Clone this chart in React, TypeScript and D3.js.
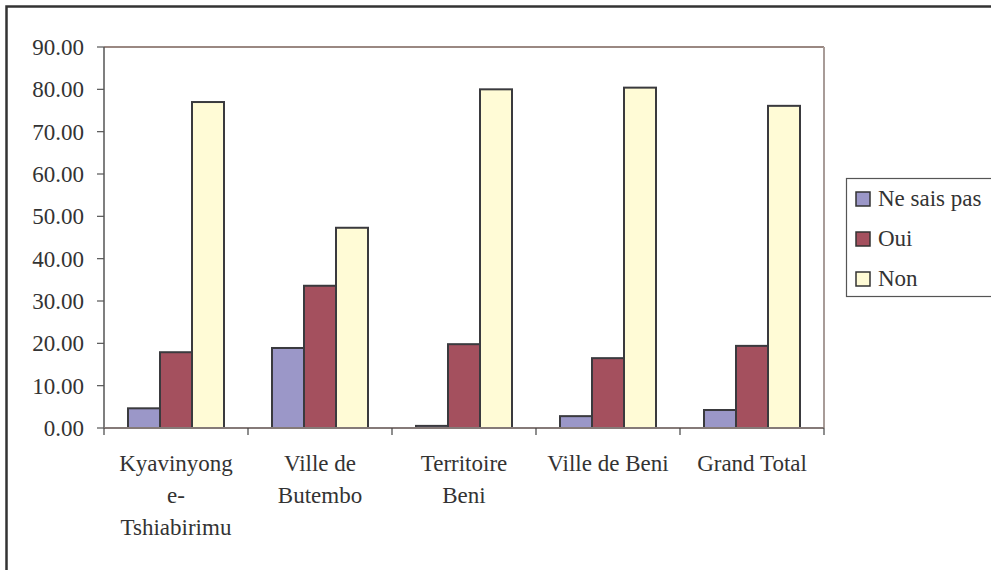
import React from "react";
import * as d3 from "d3";

const categories: string[][] = [
  ["Kyavinyong", "e-", "Tshiabirimu"],
  ["Ville de", "Butembo"],
  ["Territoire", "Beni"],
  ["Ville de Beni"],
  ["Grand Total"],
];
const seriesNames = ["Ne sais pas", "Oui", "Non"];
const neSaisPas = [4.65, 18.9, 0.5, 2.8, 4.25];
const oui = [17.9, 33.6, 19.8, 16.5, 19.4];
const non = [77.0, 47.3, 80.0, 80.4, 76.1];
const yTicks = [0, 10, 20, 30, 40, 50, 60, 70, 80, 90];
const colors = ["#9b97c8", "#a4505e", "#fffbd6"];

const W = 991;
const H = 570;
const plot = { left: 104, right: 824, top: 47, bottom: 428 };
const textStyle: React.CSSProperties = {
  fontFamily: "'Times New Roman', Tinos, 'Noto Serif', FreeSerif, 'Liberation Serif', serif",
};
const textColor = "#333333";

export default function App() {
  const series = [neSaisPas, oui, non];
  const x0 = d3
    .scaleBand<number>()
    .domain(d3.range(categories.length))
    .range([plot.left, plot.right])
    .paddingInner(0)
    .paddingOuter(0);
  const bw = x0.bandwidth();
  const x1 = d3
    .scaleBand<number>()
    .domain(d3.range(series.length))
    .range([bw * (0.75 / 4.5), bw * (1 - 0.75 / 4.5)])
    .padding(0);
  const y = d3.scaleLinear().domain([0, 90]).range([plot.bottom, plot.top]);

  return (
    <svg
      width={W}
      height={H}
      style={{ position: "absolute", left: 0, top: 0, background: "#fff" }}
    >
      <rect x={0} y={0} width={W} height={H} fill="#fff" />
      {/* outer chart frame */}
      <rect x={6.5} y={6.5} width={W + 20} height={H + 20} fill="none" stroke="#333" strokeWidth={2.5} />

      {/* plot frame top/right */}
      <line x1={plot.left} x2={plot.right} y1={plot.top} y2={plot.top} stroke="#9a8882" strokeWidth={2} />
      <line x1={plot.right} x2={plot.right} y1={plot.top} y2={plot.bottom} stroke="#a89c98" strokeWidth={2} />

      {/* bars */}
      {series.map((vals, si) =>
        vals.map((v, ci) => {
          const bx = (x0(ci) as number) + (x1(si) as number);
          const by = y(v);
          return (
            <rect
              key={`${si}-${ci}`}
              x={bx}
              y={by}
              width={x1.bandwidth()}
              height={plot.bottom - by}
              fill={colors[si]}
              stroke="#3a3a3e"
              strokeWidth={2}
            />
          );
        })
      )}

      {/* y axis */}
      <line x1={plot.left} x2={plot.left} y1={plot.top} y2={plot.bottom} stroke="#555" strokeWidth={1.5} />
      {yTicks.map((t) => (
        <g key={t}>
          <line x1={plot.left - 7} x2={plot.left} y1={y(t)} y2={y(t)} stroke="#555" strokeWidth={1.2} />
          <text
            x={84}
            y={y(t)}
            dy="0.35em"
            textAnchor="end"
            fontSize={23}
            fill={textColor}
            style={textStyle}
          >
            {d3.format(".2f")(t)}
          </text>
        </g>
      ))}

      {/* x axis */}
      <line x1={plot.left} x2={plot.right} y1={plot.bottom} y2={plot.bottom} stroke="#857a78" strokeWidth={2} />
      {d3.range(categories.length + 1).map((i) => {
        const tx = plot.left + i * bw;
        return <line key={i} x1={tx} x2={tx} y1={plot.bottom} y2={plot.bottom + 7} stroke="#444" strokeWidth={1.2} />;
      })}
      {categories.map((lines, ci) => (
        <text key={ci} textAnchor="middle" fontSize={23} fill={textColor} style={textStyle}>
          {lines.map((ln, li) => (
            <tspan key={li} x={(x0(ci) as number) + bw / 2} y={471 + li * 32}>
              {ln}
            </tspan>
          ))}
        </text>
      ))}

      {/* legend */}
      <rect x={846.5} y={178.5} width={200} height={118} fill="#fff" stroke="#555" strokeWidth={1.2} />
      {seriesNames.map((name, i) => (
        <g key={name}>
          <rect
            x={856}
            y={192 + i * 40}
            width={14}
            height={14}
            fill={colors[i]}
            stroke="#333"
            strokeWidth={1.5}
          />
          <text x={878} y={206 + i * 40} fontSize={23} fill={textColor} style={textStyle}>
            {name}
          </text>
        </g>
      ))}
    </svg>
  );
}
